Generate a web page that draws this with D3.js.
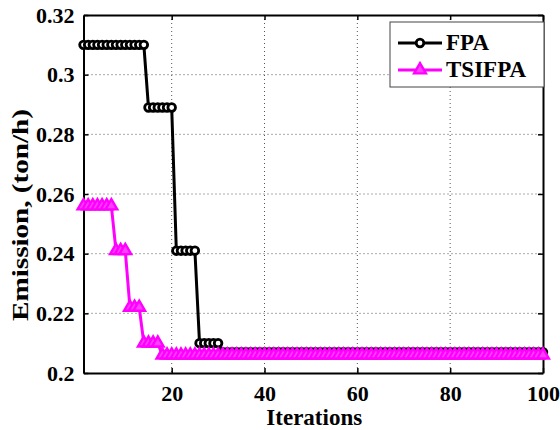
<!DOCTYPE html>
<html>
<head>
<meta charset="utf-8">
<script src="https://cdn.jsdelivr.net/npm/d3@7"></script>
<style>
  body { margin: 0; background: #fff; }
  svg text { font-family: "Liberation Serif", "Times New Roman", "DejaVu Serif", serif !important; font-weight: bold; }
</style>
</head>
<body>
<script>
// data: one value per iteration (1..100)
var iterations = d3.range(1, 101);

var fpa = [
  0.310,0.310,0.310,0.310,0.310,0.310,0.310,0.310,0.310,0.310,
  0.310,0.310,0.310,0.310,0.289,0.289,0.289,0.289,0.289,0.289,
  0.241,0.241,0.241,0.241,0.241,0.210,0.210,0.210,0.210,0.210,
  0.207,0.207,0.207,0.207,0.207,0.207,0.207,0.207,0.207,0.207,
  0.207,0.207,0.207,0.207,0.207,0.207,0.207,0.207,0.207,0.207,
  0.207,0.207,0.207,0.207,0.207,0.207,0.207,0.207,0.207,0.207,
  0.207,0.207,0.207,0.207,0.207,0.207,0.207,0.207,0.207,0.207,
  0.207,0.207,0.207,0.207,0.207,0.207,0.207,0.207,0.207,0.207,
  0.207,0.207,0.207,0.207,0.207,0.207,0.207,0.207,0.207,0.207,
  0.207,0.207,0.207,0.207,0.207,0.207,0.207,0.207,0.207,0.207
];

var tsifpa = [
  0.256,0.256,0.256,0.256,0.256,0.256,0.256,0.241,0.241,0.241,
  0.222,0.222,0.222,0.210,0.210,0.210,0.210,0.206,0.206,0.206,
  0.206,0.206,0.206,0.206,0.206,0.206,0.206,0.206,0.206,0.206,
  0.206,0.206,0.206,0.206,0.206,0.206,0.206,0.206,0.206,0.206,
  0.206,0.206,0.206,0.206,0.206,0.206,0.206,0.206,0.206,0.206,
  0.206,0.206,0.206,0.206,0.206,0.206,0.206,0.206,0.206,0.206,
  0.206,0.206,0.206,0.206,0.206,0.206,0.206,0.206,0.206,0.206,
  0.206,0.206,0.206,0.206,0.206,0.206,0.206,0.206,0.206,0.206,
  0.206,0.206,0.206,0.206,0.206,0.206,0.206,0.206,0.206,0.206,
  0.206,0.206,0.206,0.206,0.206,0.206,0.206,0.206,0.206,0.206
];

var xTicks = [20, 40, 60, 80, 100];
var yTicks = [0.2, 0.22, 0.24, 0.26, 0.28, 0.3, 0.32];
var seriesNames = ["FPA", "TSIFPA"];

// drawing vars (plot box edges)
var w = 560, h = 430;
var pLeft = 83.5, pRight = 543, pTop = 15, pBottom = 373;

var xScale = d3.scaleLinear().domain([1, 100]).range([pLeft, pRight]);
var yScale = d3.scaleLinear().domain([0.2, 0.32]).range([pBottom, pTop]);

var svg = d3.select("body").append("svg")
  .attr("width", w)
  .attr("height", h);

// dotted grid
svg.append("g").selectAll("line")
  .data(xTicks.filter(function(d){ return d < 100; }))
  .enter().append("line")
  .attr("x1", function(d){ return xScale(d); })
  .attr("x2", function(d){ return xScale(d); })
  .attr("y1", pTop).attr("y2", pBottom)
  .attr("stroke", "#555").attr("stroke-width", 1)
  .attr("stroke-dasharray", "1,3");

svg.append("g").selectAll("line")
  .data(yTicks.filter(function(d){ return d > 0.2 && d < 0.32; }))
  .enter().append("line")
  .attr("x1", pLeft).attr("x2", pRight)
  .attr("y1", function(d){ return yScale(d); })
  .attr("y2", function(d){ return yScale(d); })
  .attr("stroke", "#555").attr("stroke-width", 1)
  .attr("stroke-dasharray", "1,3");

// axes, ticks pointing inward (matlab box style)
var fmt = function(d){ return String(+d.toFixed(2)); };

var xAxisB = d3.axisBottom(xScale).tickValues(xTicks).tickSizeInner(-5).tickSizeOuter(0).tickPadding(12);
var xAxisT = d3.axisTop(xScale).tickValues(xTicks).tickSizeInner(-5).tickSizeOuter(0).tickFormat("");
var yAxisL = d3.axisLeft(yScale).tickValues(yTicks).tickSizeInner(-5).tickSizeOuter(0).tickPadding(9).tickFormat(fmt);
var yAxisR = d3.axisRight(yScale).tickValues(yTicks).tickSizeInner(-5).tickSizeOuter(0).tickFormat("");

function styleAxis(g) {
  g.attr("font-family", null).attr("font-size", null);
  g.selectAll("path").attr("stroke", "#000").attr("stroke-width", 2);
  g.selectAll("line").attr("stroke", "#000").attr("stroke-width", 1.5);
  g.selectAll("text").attr("fill", "#000")
    .style("font-size", "22px");
}

svg.append("g").attr("transform", "translate(0," + pBottom + ")").call(xAxisB).call(styleAxis);
svg.append("g").attr("transform", "translate(0," + pTop + ")").call(xAxisT).call(styleAxis);
svg.append("g").attr("transform", "translate(" + pLeft + ",0)").call(yAxisL).call(styleAxis);
svg.append("g").attr("transform", "translate(" + pRight + ",0)").call(yAxisR).call(styleAxis);

// lines
var line = d3.line()
  .x(function(d, i){ return xScale(iterations[i]); })
  .y(function(d){ return yScale(d); });

var plot = svg.append("g");

// FPA
plot.append("path").datum(fpa)
  .attr("d", line).attr("fill", "none")
  .attr("stroke", "#000").attr("stroke-width", 3);

plot.selectAll("circle.fpa").data(fpa).enter().append("circle")
  .attr("class", "fpa")
  .attr("cx", function(d, i){ return xScale(iterations[i]); })
  .attr("cy", function(d){ return yScale(d); })
  .attr("r", 3.8)
  .attr("fill", "#fff").attr("stroke", "#000").attr("stroke-width", 2.8);

// TSIFPA
plot.append("path").datum(tsifpa)
  .attr("d", line).attr("fill", "none")
  .attr("stroke", "#ff00ff").attr("stroke-width", 3);

var tri = d3.symbol().type(d3.symbolTriangle).size(60);

plot.selectAll("path.tsi").data(tsifpa).enter().append("path")
  .attr("class", "tsi")
  .attr("d", tri)
  .attr("transform", function(d, i){ return "translate(" + xScale(iterations[i]) + "," + yScale(d) + ")"; })
  .attr("fill", "#ff40ff").attr("stroke", "#ff00ff").attr("stroke-width", 2.4);

// axis labels
svg.append("text")
  .text("Iterations")
  .attr("x", (pLeft + pRight) / 2 + 1)
  .attr("y", 425)
  .attr("text-anchor", "middle")
  .attr("font-size", "23px");

svg.append("text")
  .text("Emission, (ton/h)")
  .attr("transform", "translate(28," + 215 + ") rotate(-90)")
  .attr("text-anchor", "middle")
  .attr("font-size", "23px")
  .attr("textLength", 212)
  .attr("lengthAdjust", "spacingAndGlyphs");

// legend
var lg = svg.append("g");
lg.append("rect")
  .attr("x", 390).attr("y", 22)
  .attr("width", 154).attr("height", 65)
  .attr("fill", "#fff").attr("stroke", "#444").attr("stroke-width", 1);

var legY = [43, 70];
var legColors = ["#000", "#ff00ff"];

seriesNames.forEach(function(name, k){
  lg.append("line")
    .attr("x1", 398).attr("x2", 442)
    .attr("y1", legY[k]).attr("y2", legY[k])
    .attr("stroke", legColors[k]).attr("stroke-width", 3);
  if (k === 0) {
    lg.append("circle").attr("cx", 420).attr("cy", legY[k]).attr("r", 3.8)
      .attr("fill", "#fff").attr("stroke", "#000").attr("stroke-width", 2.8);
  } else {
    lg.append("path").attr("d", tri)
      .attr("transform", "translate(420," + legY[k] + ")")
      .attr("fill", "#ff40ff").attr("stroke", "#ff00ff").attr("stroke-width", 2.4);
  }
  lg.append("text")
    .text(name)
    .attr("x", 446).attr("y", legY[k] + 7)
    .attr("font-size", "23px");
});
</script>
</body>
</html>
